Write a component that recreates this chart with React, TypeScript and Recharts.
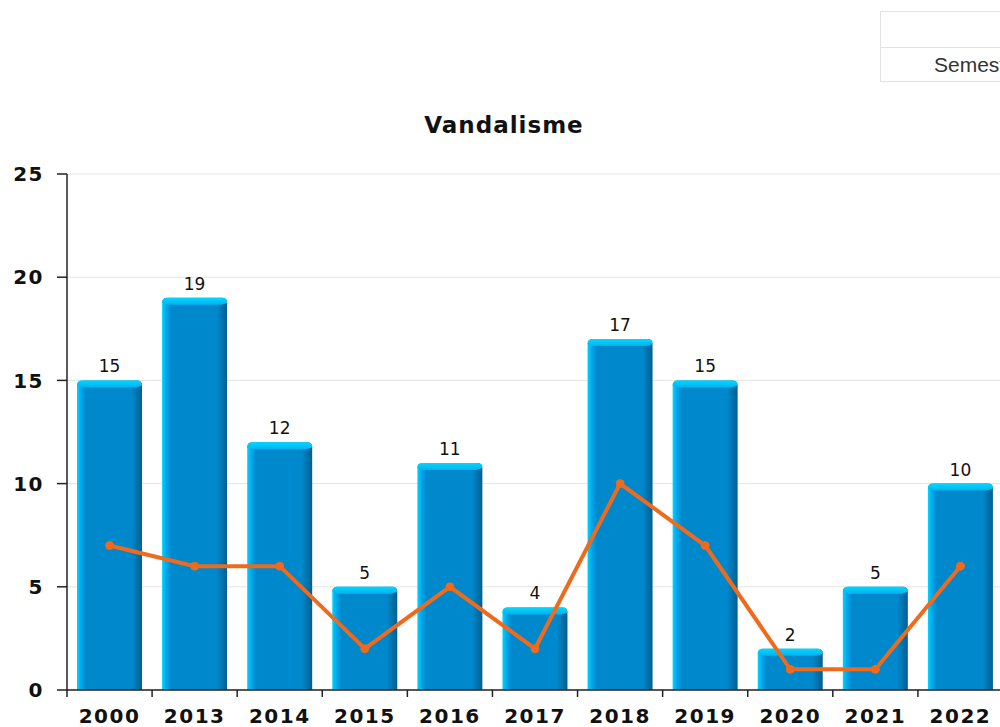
import React from "react";
import {
  ComposedChart, Bar, Line, XAxis, YAxis, CartesianGrid, LabelList,
} from "recharts";

// valeurs
const YEARS = ["2000", "2013", "2014", "2015", "2016", "2017", "2018", "2019", "2020", "2021", "2022"];
const BAR_VALUES = [15, 19, 12, 5, 11, 4, 17, 15, 2, 5, 10];
const LINE_VALUES = [7, 6, 6, 2, 5, 2, 10, 7, 1, 1, 6];
const Y_TICKS = [0, 5, 10, 15, 20, 25];

const data = YEARS.map((annee, i) => ({ annee, total: BAR_VALUES[i], moyenne: LINE_VALUES[i] }));

const ORANGE = "#ee6a1c";
const AXIS_COLOR = "#222";
const FONT = "'DejaVu Sans', sans-serif";

function BevelBar(props: any) {
  const { x, y, width, height } = props;
  if (!height || height <= 0) return null;
  const r = 5;
  const b = 6;
  const body = `M${x},${y + height} L${x},${y + r} Q${x},${y} ${x + r},${y} L${x + width - r},${y} Q${x + width},${y} ${x + width},${y + r} L${x + width},${y + height} Z`;
  const top = `M${x},${y + r} Q${x},${y} ${x + r},${y} L${x + width - r},${y} Q${x + width},${y} ${x + width},${y + r} L${x + width - b},${y + b + 1} L${x + b},${y + b + 1} Z`;
  return (
    <g>
      <path d={body} fill="url(#barGrad)" />
      <path d={top} fill="url(#topGrad)" />
    </g>
  );
}

function YearTick(props: any) {
  const { x, y, payload } = props;
  const off = payload && payload.offset ? payload.offset : 42.5;
  return (
    <g>
      <line x1={x - off} x2={x - off} y1={y - 9} y2={y - 2} stroke={AXIS_COLOR} strokeWidth={1.5} />
      <text x={x} y={y + 24} textAnchor="middle" fill="#111" fontFamily={FONT} fontWeight="bold"
        fontSize={20} letterSpacing={1.5}>
        {payload.value}
      </text>
    </g>
  );
}

export default function App() {
  return (
    <div style={{ position: "absolute", left: 0, top: 0, width: 1000, height: 727, overflow: "hidden", background: "#fff" }}>
      {/* bout de tableau coupé en haut à droite */}
      <div style={{ position: "absolute", left: 880, top: 11, width: 200, height: 71, border: "1px solid #e2e2e2", boxSizing: "border-box" }}>
        <div style={{ height: 35, borderBottom: "1px solid #e2e2e2" }} />
        <div style={{ paddingLeft: 53, lineHeight: "34px", fontFamily: "'Liberation Sans', Arial, sans-serif", fontSize: 21, color: "#333" }}>
          Semestre
        </div>
      </div>

      <div style={{
        position: "absolute", left: 0, width: 1008, top: 110, textAlign: "center",
        fontFamily: FONT, fontWeight: "bold", fontSize: 23, letterSpacing: 1, color: "#111", lineHeight: "30px",
      }}>
        Vandalisme
      </div>

      <div style={{ position: "absolute", left: 0, top: 0 }}>
        <ComposedChart width={1100} height={727} data={data}
          margin={{ top: 174, right: 97, left: 7, bottom: 7 }} barCategoryGap={10}>
          <defs>
            <linearGradient id="barGrad" x1="0" y1="0" x2="1" y2="0">
              <stop offset="0" stopColor="#00d4ff" />
              <stop offset="0.06" stopColor="#00aaee" />
              <stop offset="0.14" stopColor="#0088cc" />
              <stop offset="0.84" stopColor="#0088cc" />
              <stop offset="1" stopColor="#005f90" />
            </linearGradient>
            <linearGradient id="topGrad" x1="0" y1="0" x2="0" y2="1">
              <stop offset="0" stopColor="#00d8ff" />
              <stop offset="1" stopColor="#00b2f0" />
            </linearGradient>
          </defs>
          <CartesianGrid stroke="#e4e4e4" vertical={false} />
          <XAxis dataKey="annee" height={30} tickSize={7} tickMargin={2} tickLine={false}
            axisLine={{ stroke: AXIS_COLOR, strokeWidth: 1.5 }} tick={<YearTick />} interval={0} />
          <YAxis width={60} domain={[0, 25]} ticks={Y_TICKS} tickSize={10} tickMargin={13}
            axisLine={{ stroke: AXIS_COLOR, strokeWidth: 1.5 }} tickLine={{ stroke: AXIS_COLOR, strokeWidth: 1.5 }}
            tick={{ fill: "#111", fontFamily: FONT, fontWeight: "bold", fontSize: 20, letterSpacing: 1.5 }} />
          <Bar dataKey="total" shape={<BevelBar />} isAnimationActive={false}>
            <LabelList dataKey="total" position="top" offset={8}
              style={{ fill: "#111", fontFamily: FONT, fontSize: 17 }} />
          </Bar>
          <Line dataKey="moyenne" type="linear" stroke={ORANGE} strokeWidth={4}
            dot={{ r: 4, fill: ORANGE, stroke: ORANGE, strokeWidth: 1 }} activeDot={false}
            isAnimationActive={false} />
        </ComposedChart>
      </div>
    </div>
  );
}
